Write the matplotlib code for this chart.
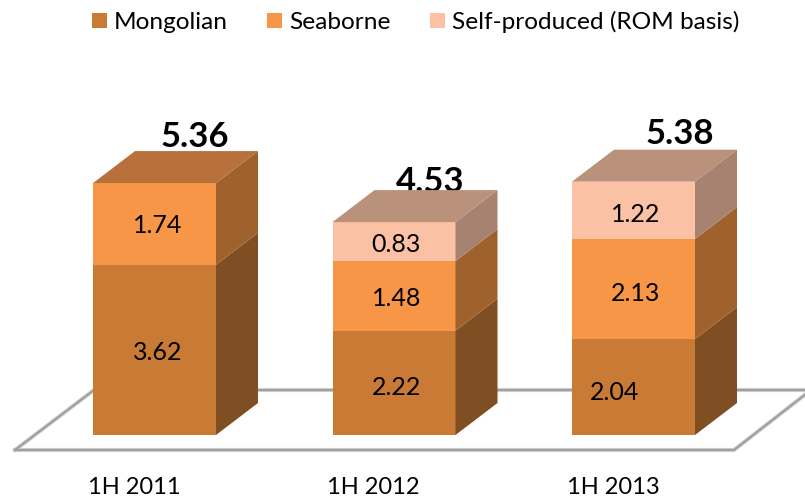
# %%
## Import modules
import matplotlib
matplotlib.use('Agg')
import matplotlib.pyplot as plt
from matplotlib.patches import Polygon

## Data
periods = ['1H 2011', '1H 2012', '1H 2013']
mongolian = [3.62, 2.22, 2.04]
seaborne = [1.74, 1.48, 2.13]
self_produced = [0, 0.83, 1.22]
totals = [5.36, 4.53, 5.38]
series_names = ['Mongolian', 'Seaborne', 'Self-produced (ROM basis)']

## Colours: front, side, top
front = ['#C97B36', '#F79646', '#FAC1A5']
side = ['#7F4E23', '#9F622C', '#A88270']
top = ['#B06C33', '#B8713A', '#BA917B']

W, H = 805, 500
unit_x = 239.5      # pixels between bars
unit_y = 47.0       # pixels per value unit
x0_px, y0_px = 154.5, 435
bar_width = 123 / unit_x
dx = 42 / unit_x
dy = 32 / unit_y

plt.rcParams['font.family'] = ['Lato', 'DejaVu Sans']

fig = plt.figure(figsize=(W / 100, H / 100), dpi=100)
ax = fig.add_axes([0, 0, 1, 1])
ax.set_xlim(-x0_px / unit_x, (W - x0_px) / unit_x)
ax.set_ylim(-(H - y0_px) / unit_y, y0_px / unit_y)
ax.axis('off')

# %%
## Floor
floor_px = [(15, 450), (734, 450), (811, 390), (94, 390), (15, 450)]
fx = [p[0] / W for p in floor_px]
fy = [1 - p[1] / H for p in floor_px]
ax.plot(fx, fy, transform=fig.transFigure, color='#D4D4D4', lw=3.0, zorder=1,
        solid_joinstyle='miter', clip_on=False)
ax.plot(fx, fy, transform=fig.transFigure, color='#A0A0A0', lw=1.6, zorder=1,
        solid_joinstyle='miter', clip_on=False)

# %%
## Bars
series = [mongolian, seaborne, self_produced]
xs = list(range(len(periods)))
bottoms = [0, 0, 0]
for s, values in enumerate(series):
    ax.bar(xs, values, width=bar_width, bottom=bottoms, color=front[s], zorder=3,
           label=series_names[s], linewidth=0)
    for i, v in enumerate(values):
        if v == 0:
            continue
        right = xs[i] + bar_width / 2
        y1 = bottoms[i]
        y2 = y1 + v
        ax.add_patch(Polygon([(right, y1), (right + dx, y1 + dy), (right + dx, y2 + dy), (right, y2)],
                             facecolor=side[s], edgecolor='none', zorder=3))
    bottoms = [b + v for b, v in zip(bottoms, values)]

## Top faces take the colour of the highest segment
for i, total in enumerate(bottoms):
    s = 2 if self_produced[i] > 0 else 1
    left = xs[i] - bar_width / 2
    right = xs[i] + bar_width / 2
    ax.add_patch(Polygon([(left, total), (right, total), (right + dx, total + dy), (left + dx, total + dy)],
                         facecolor=top[s], edgecolor='none', zorder=3))

# %%
## Value labels (pixel nudges as in the original slide)
nudge_x = [[3, 3, -19], [3, 3, 2], [0, 2, 2]]
nudge_y = [[3, 5, 5], [2, 3, 4], [0, 3, 4]]
bottoms = [0, 0, 0]
for s, values in enumerate(series):
    for i, v in enumerate(values):
        if v > 0:
            ax.annotate(f'{v:.2f}', (xs[i], bottoms[i] + v / 2), xytext=(nudge_x[s][i] * 0.72, -nudge_y[s][i] * 0.72),
                        textcoords='offset points', ha='center', va='center', fontsize=18, color='black', zorder=5)
    bottoms = [b + v for b, v in zip(bottoms, values)]

## Totals
total_dx = [40, 36, 46]
total_dy = [46, 40, 48]
for i, t in enumerate(totals):
    ax.annotate(f'{t:.2f}', (xs[i], t), xytext=(total_dx[i] * 0.72, total_dy[i] * 0.72),
                textcoords='offset points', ha='center', va='center', fontsize=25,
                fontweight='bold', color='black', zorder=2)

## Category labels
for i, label in enumerate(periods):
    ax.annotate(label, (xs[i], 0), xytext=(-20.5 * 0.72, -53 * 0.72), textcoords='offset points',
                ha='center', va='center', fontsize=17, color='black')

## Legend
fig.legend(loc='upper center', bbox_to_anchor=(0.516, 1.022), ncol=3, frameon=False, fontsize=17.6,
           handlelength=0.62, handleheight=0.62, handletextpad=0.28, columnspacing=1.6,
           labelcolor='black', borderpad=0.4)

fig.savefig('out.png', dpi=100)
